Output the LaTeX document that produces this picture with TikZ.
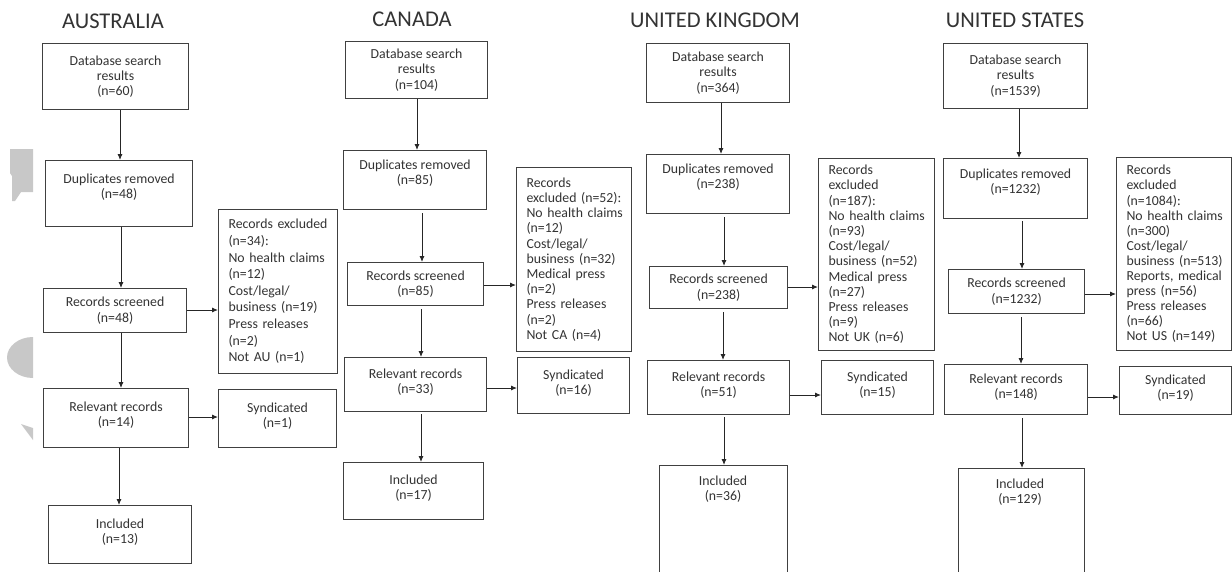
\documentclass[tikz,border=0pt]{standalone}
\usepackage{fontspec}
\setmainfont{Carlito}
\usetikzlibrary{arrows.meta}
\definecolor{txtc}{HTML}{333333}
\definecolor{boxc}{HTML}{404040}
\definecolor{blobc}{HTML}{C8C8C8}
\tikzset{
  box/.style={draw=boxc, line width=1.1pt, text=txtc, align=center,
    font=\fontsize{13.8}{15.3}\selectfont, inner sep=0pt},
  exbox/.style={box, align=left, inner xsep=0pt},
  plaintxt/.style={text=txtc, align=center, font=\fontsize{13.8}{15.3}\selectfont, inner sep=0pt},
  arr/.style={-{Latex[length=6pt,width=5pt]}, line width=0.9pt, draw=black!85},
  ttl/.style={text=txtc, font=\fontsize{22.5}{26}\selectfont, inner sep=0pt},
}
% box by corners
\newcommand\bx[7]{\node[#6, minimum width={#4-#2}, minimum height={#5-#3}, anchor=north west] (#1) at (#2,#3) {#7};}
% exclusion box by corners, with baselineskip
\newcommand\ex[7]{\node[exbox, minimum width={#4-#2}, minimum height={#5-#3}, text width={#4-#2-1}, anchor=north west,
  font=\fontsize{13.8}{#6}\selectfont] (#1) at (#2,#3) {\leftskip=9.5pt\relax #7\par};}
\begin{document}
\begin{tikzpicture}[x=1pt,y=-1pt]
\fill[white] (0,0) rectangle (1232,571);
\useasboundingbox (0,0) rectangle (1232,571);

% faint grey marks at the left edge
\fill[blobc] (10,149) -- (33,149) -- (33,192) -- (21,192) -- (15,201) -- (12,201) -- (12,176) -- (10,173) -- cycle;
\fill[blobc] (33,337) arc[start angle=270, end angle=90, x radius=26, y radius=20.5] -- cycle;
\fill[blobc] (21,424) -- (33,428) -- (33,440) -- cycle;

% ---------------- AUSTRALIA ----------------
\node[ttl] (tAU) at (113,21) {AUSTRALIA};
\bx{aDB}{42}{43}{188}{109}{box}{Database search\\results\\(n=60)}
\bx{aDup}{45}{160}{192}{226}{box}{Duplicates removed\\(n=48)\\\mbox{}}
\bx{aScr}{43}{288}{186}{332}{box}{Records screened\\(n=48)}
\bx{aRel}{43}{388}{188}{447}{box}{Relevant records\\(n=14)\\[-8pt]\mbox{}}
\bx{aInc}{48}{505}{191}{563}{box}{Included\\(n=13)\\[-8pt]\mbox{}}
\ex{aExc}{218}{209}{337}{373}{16.6}{Records excluded\\(n=34):\\No health claims\\(n=12)\\Cost/legal/\\business (n=19)\\Press releases\\(n=2)\\Not AU (n=1)}
\bx{aSyn}{218}{389}{336}{447}{box}{Syndicated\\(n=1)\\[-8pt]\mbox{}}
\draw[arr] (aDB.south -| 120,0) -- (aDup.north -| 120,0);
\draw[arr] (aDup.south -| 121,0) -- (aScr.north -| 121,0);
\draw[arr] (aScr.south -| 121,0) -- (aRel.north -| 121,0);
\draw[arr] (aRel.south -| 119,0) -- (aInc.north -| 119,0);
\draw[arr] (aScr.east |- 0,310) -- (aExc.west |- 0,310);
\draw[arr] (aRel.east |- 0,417) -- (aSyn.west |- 0,417);

% ---------------- CANADA ----------------
\node[ttl] (tCA) at (412,19) {CANADA};
\bx{cDB}{345}{41}{487}{98}{box}{Database search\\results\\(n=104)}
\bx{cDup}{343}{150}{486}{209}{box}{Duplicates removed\\(n=85)\\\mbox{}}
\bx{cScr}{347}{262}{483}{305}{box}{Records screened\\(n=85)}
\bx{cRel}{344}{357}{486}{411}{box}{Relevant records\\(n=33)\\[-8pt]\mbox{}}
\bx{cInc}{343}{462}{483}{519}{box}{Included\\(n=17)\\[-8pt]\mbox{}}
\ex{cExc}{516}{167}{631}{351}{15.2}{Records\\excluded (n=52):\\No health claims\\(n=12)\\Cost/legal/\\business (n=32)\\Medical press\\(n=2)\\Press releases\\(n=2)\\Not CA (n=4)}
\bx{cSyn}{517}{357}{629}{413}{box}{Syndicated\\(n=16)\\[-8pt]\mbox{}}
\draw[arr] (cDB.south -| 417,0) -- (cDup.north -| 417,0);
\draw[arr] ([yshift=-3pt]cDup.south -| 422,0) -- (cScr.north -| 422,0);
\draw[arr] ([yshift=-3pt]cScr.south -| 421,0) -- (cRel.north -| 421,0);
\draw[arr] ([yshift=-2pt]cRel.south -| 421,0) -- (cInc.north -| 421,0);
\draw[arr] (cScr.east |- 0,285) -- (cExc.west |- 0,285);
\draw[arr] (cRel.east |- 0,388) -- (cSyn.west |- 0,388);

% ---------------- UNITED KINGDOM ----------------
\node[ttl] (tUK) at (715,20) {UNITED KINGDOM};
\bx{kDB}{646}{43}{789}{102}{box}{Database search\\results\\(n=364)}
\bx{kDup}{646}{154}{789}{213}{box}{Duplicates removed\\(n=238)\\\mbox{}}
\bx{kScr}{649}{266}{787}{308}{box}{Records screened\\(n=238)}
\bx{kRel}{647}{360}{789}{414}{box}{Relevant records\\(n=51)\\[-8pt]\mbox{}}
\bx{kInc}{659}{465}{787}{580}{box}{}
\node[plaintxt] (kIncT) at (723,489) {Included\\(n=36)};
\ex{kExc}{818}{158}{934}{350}{15.2}{Records\\excluded\\(n=187):\\No health claims\\(n=93)\\Cost/legal/\\business (n=52)\\Medical press\\(n=27)\\Press releases\\(n=9)\\Not UK (n=6)}
\bx{kSyn}{821}{360}{933}{414}{box}{Syndicated\\(n=15)\\[-8pt]\mbox{}}
\draw[arr] (kDB.south -| 721,0) -- (kDup.north -| 721,0);
\draw[arr] ([yshift=-3pt]kDup.south -| 724,0) -- (kScr.north -| 724,0);
\draw[arr] ([yshift=-3pt]kScr.south -| 723,0) -- (kRel.north -| 723,0);
\draw[arr] ([yshift=-2pt]kRel.south -| 724,0) -- (kInc.north -| 724,0);
\draw[arr] (kScr.east |- 0,287) -- (kExc.west |- 0,287);
\draw[arr] (kRel.east |- 0,395) -- (kSyn.west |- 0,395);

% ---------------- UNITED STATES ----------------
\node[ttl] (tUS) at (1015,20) {UNITED STATES};
\bx{uDB}{943}{43}{1087}{108}{box}{Database search\\results\\(n=1539)}
\bx{uDup}{943}{158}{1087}{218}{box}{Duplicates removed\\(n=1232)\\\mbox{}}
\bx{uScr}{948}{269}{1084}{313}{box}{Records screened\\(n=1232)}
\bx{uRel}{944}{364}{1087}{414}{box}{Relevant records\\(n=148)\\[-8pt]\mbox{}}
\bx{uInc}{958}{468}{1084}{580}{box}{}
\node[plaintxt] (uIncT) at (1020,492) {Included\\(n=129)};
\ex{uExc}{1116}{157}{1231}{350}{15.1}{Records\\excluded\\(n=1084):\\No health claims\\(n=300)\\Cost/legal/\\business (n=513)\\Reports, medical\\press (n=56)\\Press releases\\(n=66)\\Not US (n=149)}
\bx{uSyn}{1119}{366}{1231}{414}{box}{Syndicated\\(n=19)\\[-8pt]\mbox{}}
\draw[arr] (uDB.south -| 1019,0) -- (uDup.north -| 1019,0);
\draw[arr] ([yshift=-2pt]uDup.south -| 1022,0) -- (uScr.north -| 1022,0);
\draw[arr] ([yshift=-3pt]uScr.south -| 1021,0) -- (uRel.north -| 1021,0);
\draw[arr] ([yshift=-3pt]uRel.south -| 1022,0) -- (uInc.north -| 1022,0);
\draw[arr] (uScr.east |- 0,294) -- (uExc.west |- 0,294);
\draw[arr] (uRel.east |- 0,397) -- (uSyn.west |- 0,397);
\end{tikzpicture}
\end{document}
